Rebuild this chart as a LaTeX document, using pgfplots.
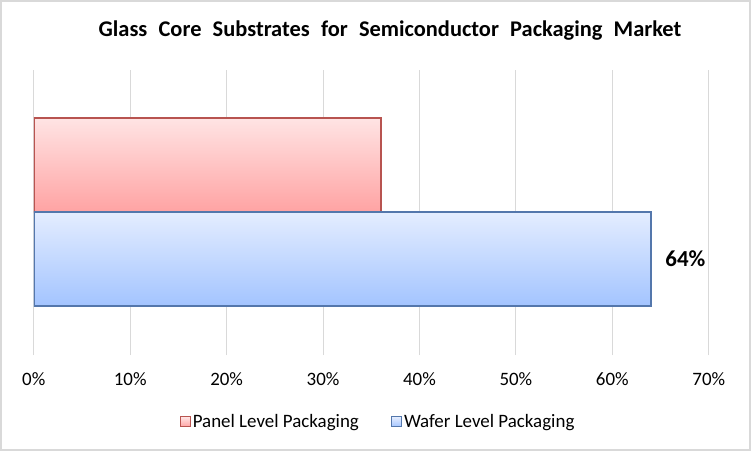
\documentclass[border=0pt]{standalone}
\usepackage{pgfplots}
\pgfplotsset{compat=1.18}
\usepackage{fontspec}
\setmainfont{Carlito}
\definecolor{framegray}{HTML}{D9D9D9}
\definecolor{gridgray}{HTML}{D9D9D9}
\definecolor{redtop}{HTML}{FFE4E4}
\definecolor{redbot}{HTML}{FFA3A3}
\definecolor{redline}{HTML}{B85450}
\definecolor{bluetop}{HTML}{E4EDFF}
\definecolor{bluebot}{HTML}{A3C4FF}
\definecolor{blueline}{HTML}{5477AC}
\begin{document}
\begin{tikzpicture}[x=1bp,y=1bp]
\useasboundingbox (0,0) rectangle (751,451);
\fill[white] (0,0) rectangle (751,451);
\draw[framegray, line width=2bp] (1,1) rectangle (750,450);
\node[font=\bfseries\fontsize{22.5}{26}\selectfont, text=black] at (390,420)
  {Glass\hspace{0.5em}Core\hspace{0.5em}Substrates\hspace{0.5em}for\hspace{0.5em}Semiconductor\hspace{0.5em}Packaging\hspace{0.5em}Market};
\begin{axis}[
  at={(35,102)}, anchor=south west,
  width=675bp, height=285bp, scale only axis,
  xbar, bar width=1,
  xmin=0, xmax=70, ymin=-1.02, ymax=2.01,
  xtick={0,10,...,70},
  xticklabel={\pgfmathprintnumber{\tick}\%},
  ytick=\empty,
  axis line style={draw=none},
  major tick length=0,
  xmajorgrids, grid style={color=gridgray, line width=1bp},
  tick label style={font=\fontsize{19}{22}\selectfont, text=black},
  xticklabel style={yshift=-14bp},
  /pgf/number format/assume math mode=true,
  legend style={at={(0.51,-0.2345)}, anchor=center, draw=none, fill=none,
    legend columns=2, font=\fontsize{19}{22}\selectfont,
    /tikz/every even column/.append style={column sep=30bp},
    legend cell align=left},
  legend image code/.code={\draw[#1, line width=1.2bp] (0bp,-5bp) rectangle (10bp,5bp);},
]
\addplot[bar shift=0, top color=redtop, bottom color=redbot, draw=redline, line width=1.5bp]
  coordinates {(36,1)};
\addlegendentry{Panel Level Packaging}
\addplot[bar shift=0, top color=bluetop, bottom color=bluebot, draw=blueline, line width=1.5bp]
  coordinates {(64,0)};
\addlegendentry{Wafer Level Packaging}
\addplot[bar shift=0, draw=none, fill=none, forget plot,
  nodes near coords, point meta=explicit symbolic,
  nodes near coords style={anchor=west, xshift=11bp, text=black,
    font=\bfseries\fontsize{23}{27}\selectfont}]
  coordinates {(64,0) [64\%]};
\end{axis}
\end{tikzpicture}
\end{document}
